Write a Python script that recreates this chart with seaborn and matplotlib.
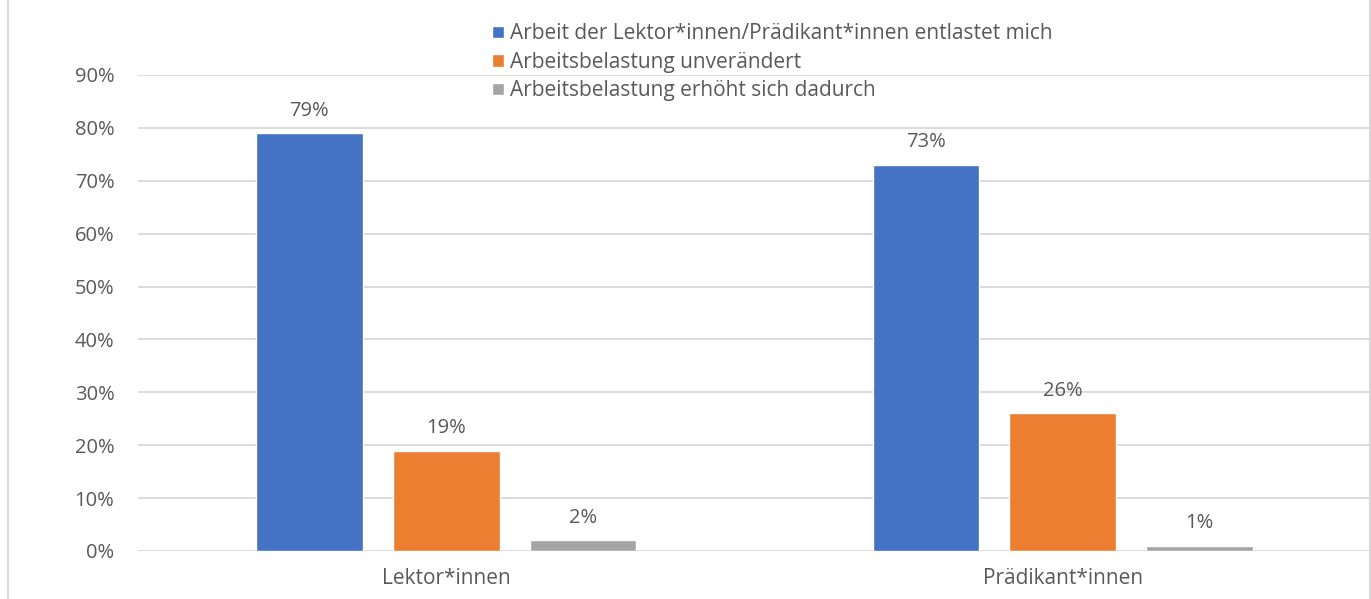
import pandas as pd
import matplotlib.pyplot as plt
import seaborn as sns
from matplotlib.lines import Line2D
from matplotlib.ticker import PercentFormatter

categories = ["Lektor*innen", "Prädikant*innen"]
series = [
    "Arbeit der Lektor*innen/Prädikant*innen entlastet mich",
    "Arbeitsbelastung unverändert",
    "Arbeitsbelastung erhöht sich dadurch",
]
values_entlastet = [79, 73]
values_unveraendert = [19, 26]
values_erhoeht = [2, 1]
colors = ["#4472C4", "#ED7D31", "#A5A5A5"]

rows = []
for name, vals in zip(series, [values_entlastet, values_unveraendert, values_erhoeht]):
    for cat, v in zip(categories, vals):
        rows.append({"Gruppe": cat, "Antwort": name, "Wert": v})
df = pd.DataFrame(rows)

sns.set_style("white")
plt.rcParams["font.family"] = ["Open Sans", "DejaVu Sans"]
text_color = "#595959"
fs = 15

fig = plt.figure(figsize=(13.71, 5.99), dpi=100)
ax = fig.add_axes([138 / 1371, 1 - 551 / 599, 1 - 138 / 1371, (551 - 75) / 599])

sns.barplot(data=df, x="Gruppe", y="Wert", hue="Antwort", palette=colors,
            width=0.666, gap=0.22, ax=ax, saturation=1)

for cont in ax.containers:
    ax.bar_label(cont, labels=[f"{v:.0f}%" for v in cont.datavalues],
                 padding=9, fontsize=fs - 0.5, color=text_color)

ax.set_ylim(0, 90)
ax.set_yticks(range(0, 91, 10))
ax.yaxis.set_major_formatter(PercentFormatter(decimals=0))
ax.set_xlim(-0.5, 1.5)
ax.grid(axis="y", color="#D9D9D9", linewidth=1.3)
ax.set_axisbelow(True)
for s in ax.spines.values():
    s.set_visible(False)
ax.tick_params(axis="y", length=0, pad=17, labelsize=fs - 0.5, labelcolor=text_color)
ax.tick_params(axis="x", length=0, pad=12, labelsize=fs, labelcolor=text_color)
ax.set_xlabel("")
ax.set_ylabel("")

handles, labels = ax.get_legend_handles_labels()
ax.legend(handles, labels, loc="upper left", bbox_to_anchor=(484 / 1371, 1 - 15 / 599),
          bbox_transform=fig.transFigure, frameon=False, fontsize=fs,
          handlelength=0.55, handleheight=0.55, handletextpad=0.3,
          labelspacing=0.36, labelcolor=text_color, borderaxespad=0)

fig.add_artist(Line2D([7.5 / 1371, 7.5 / 1371], [0, 1], color="#D9D9D9", lw=1.5,
                      transform=fig.transFigure))
fig.add_artist(Line2D([1369.5 / 1371, 1369.5 / 1371], [0, 1], color="#D9D9D9", lw=1.5,
                      transform=fig.transFigure))

fig.savefig("out.png", dpi=100)
